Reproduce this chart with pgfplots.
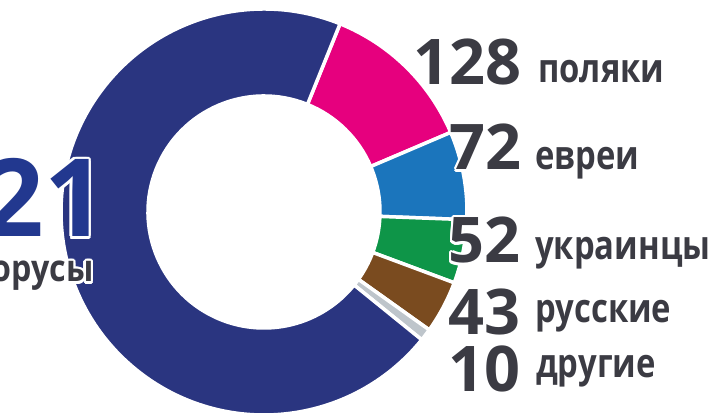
\documentclass[border=0pt]{standalone}
\usepackage{pgfplots}
\pgfplotsset{compat=1.18}
\usepackage{pgfplotstable}
\usetikzlibrary{calc}
\usepackage{fontspec}
\setmainfont{Open Sans}
\newfontfamily\wordfont{Open Sans}[FakeStretch=0.82]
\newfontfamily\belfont{Open Sans}[FakeStretch=0.87]
\usepackage{contour}
\contourlength{2.5pt}
\contournumber{12}

% colours, in the order the segments are drawn (clockwise from the top)
\definecolor{seg0}{HTML}{E6007E}
\definecolor{seg1}{HTML}{1B75BC}
\definecolor{seg2}{HTML}{0E9548}
\definecolor{seg3}{HTML}{7A4B1F}
\definecolor{seg4}{HTML}{BEC5CB}
\definecolor{seg5}{HTML}{2A3580}
\definecolor{txt}{HTML}{3B3B43}
\definecolor{bel}{HTML}{22388F}

% thousands of people
\pgfplotstableread{
value
128
72
52
43
10
721
}\ethnic

\def\total{0}
\pgfplotstableforeachcolumnelement{value}\of\ethnic\as\v{%
  \pgfmathparse{\total+\v}\xdef\total{\pgfmathresult}}

\def\cx{264}
\def\cy{207}
\def\startangle{68}

\begin{document}
\begin{tikzpicture}
\useasboundingbox (0,0) rectangle (717pt,419pt);
\clip (0,0) rectangle (717pt,419pt);
\begin{axis}[
    at={(0pt,0pt)}, anchor=origin,
    x=1pt, y=1pt,
    xmin=0, xmax=717, ymin=0, ymax=419,
    hide axis, clip=false,
]
\gdef\cum{0}
\pgfplotsinvokeforeach{0,...,5}{
  \pgfplotstablegetelem{#1}{value}\of\ethnic
  \let\val\pgfplotsretval
  \pgfmathsetmacro\aa{\startangle-\cum/\total*360}
  \pgfmathparse{\cum+\val}\xdef\cum{\pgfmathresult}
  \pgfmathsetmacro\ab{\startangle-\cum/\total*360}
  \edef\temp{\noexpand\fill[fill=seg#1, draw=white, line width=3.5pt]
    ($(axis cs:\cx,\cy)+(\aa:203pt)$)
    arc[start angle=\aa, end angle=\ab, radius=203pt]
    -- ($(axis cs:\cx,\cy)+(\ab:116pt)$)
    arc[start angle=\ab, end angle=\aa, radius=116pt] -- cycle;}
  \temp
}

\tikzset{num/.style={anchor=base east, inner sep=0pt, text=txt,
    font=\bfseries\fontsize{63}{63}\selectfont},
  word/.style={anchor=base west, inner sep=0pt, text=txt,
    font=\wordfont\bfseries\fontsize{40}{40}\selectfont}}

\node[num] at (axis cs:522,334) {128};
\node[num] at (axis cs:522,249) {\contour{white}{72}};
\node[num] at (axis cs:521,156) {\contour{white}{52}};
\node[num] at (axis cs:521,84) {43};
\node[num] at (axis cs:521,27) {10};

\node[word] at (axis cs:538,336) {поляки};
\node[word] at (axis cs:535,249) {евреи};
\node[word] at (axis cs:535,159) {украинцы};
\node[word] at (axis cs:535,96) {русские};
\node[word] at (axis cs:536,41) {другие};

\node[anchor=base east, inner sep=0pt, text=bel,
  font=\bfseries\fontsize{108}{108}\selectfont]
  at (axis cs:106,182) {\contour{white}{721}};
\node[anchor=base east, inner sep=0pt, text=txt,
  font=\belfont\bfseries\fontsize{37}{37}\selectfont]
  at (axis cs:94,137) {\contour{white}{белорусы}};
\end{axis}
\end{tikzpicture}
\end{document}
